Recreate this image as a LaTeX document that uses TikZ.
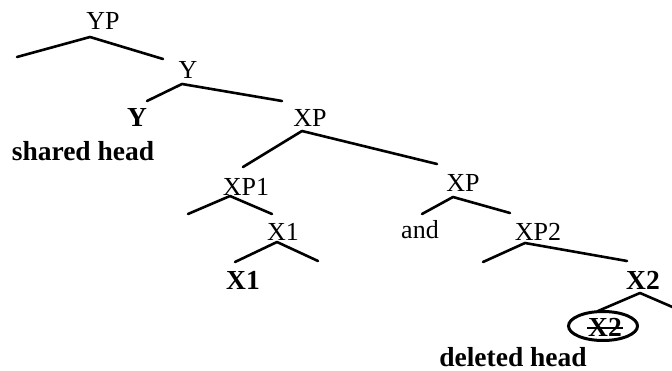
\documentclass[tikz,border=0pt]{standalone}
\usepackage{fontspec}
\setmainfont{Liberation Serif}
\usetikzlibrary{shapes.geometric}
\begin{document}
\begin{tikzpicture}[x=1pt,y=-1pt,
  lbl/.style={inner sep=0pt,anchor=center,font=\fontsize{26}{30}\selectfont},
  blbl/.style={lbl,font=\fontsize{27.5}{32}\selectfont\bfseries},
  br/.style={line width=2.6pt,line cap=round,line join=round}]
\useasboundingbox (0,0) rectangle (672,371);
% labels
\node[lbl] (YP) at (103,21) {YP};
\node[lbl] (Y) at (188,70) {Y};
\node[blbl] (Yb) at (137,117) {Y};
\node[blbl] (sh) at (83,151) {shared head};
\node[lbl] (XP) at (310,118) {XP};
\node[lbl] (XP1) at (246,187) {XP1};
\node[lbl] (X1) at (283,232) {X1};
\node[blbl] (X1b) at (243,280) {X1};
\node[lbl] (XPc) at (463,183) {XP};
\node[lbl] (and) at (420,230) {and};
\node[lbl] (XP2) at (538,232) {XP2};
\node[blbl] (X2) at (643,280) {X2};
\node[blbl] (X2d) at (605,327) {X2};
\node[draw,line width=3pt,ellipse,minimum width=69pt,minimum height=29pt,inner sep=0pt] (circ) at (603,326) {};
\node[blbl] (dh) at (513,357) {deleted head};
% apex and branch ends
\coordinate (aYP) at (90,37);   \coordinate (eYPl) at (17,57);  \coordinate (eYPr) at (163,59);
\coordinate (aY) at (182,84);   \coordinate (eYl) at (147,101); \coordinate (eYr) at (282,101);
\coordinate (aXP) at (302,131); \coordinate (eXPl) at (243,167); \coordinate (eXPr) at (437,164);
\coordinate (aXP1) at (230,196); \coordinate (eXP1l) at (188,214); \coordinate (eXP1r) at (272,214);
\coordinate (aX1) at (277,242); \coordinate (eX1l) at (235,262); \coordinate (eX1r) at (318,261);
\coordinate (aXPc) at (453,197); \coordinate (eXPcl) at (422,214); \coordinate (eXPcr) at (510,213);
\coordinate (aXP2) at (525,243); \coordinate (eXP2l) at (483,262); \coordinate (eXP2r) at (627,261);
\coordinate (aX2) at (640,293); \coordinate (eX2l) at (598,311); \coordinate (eX2r) at (684,312);
% branches
\draw[br] (eYPl) -- (aYP) -- (eYPr);
\draw[br] (eYl) -- (aY) -- (eYr);
\draw[br] (eXPl) -- (aXP) -- (eXPr);
\draw[br] (eXP1l) -- (aXP1) -- (eXP1r);
\draw[br] (eX1l) -- (aX1) -- (eX1r);
\draw[br] (eXPcl) -- (aXPc) -- (eXPcr);
\draw[br] (eXP2l) -- (aXP2) -- (eXP2r);
\draw[br] (eX2l) -- (aX2) -- (eX2r);
% strike through deleted head
\draw[line width=1.5pt] ([xshift=-1pt,yshift=-1pt]X2d.west) -- ([xshift=1pt,yshift=-1pt]X2d.east);
\end{tikzpicture}
\end{document}
